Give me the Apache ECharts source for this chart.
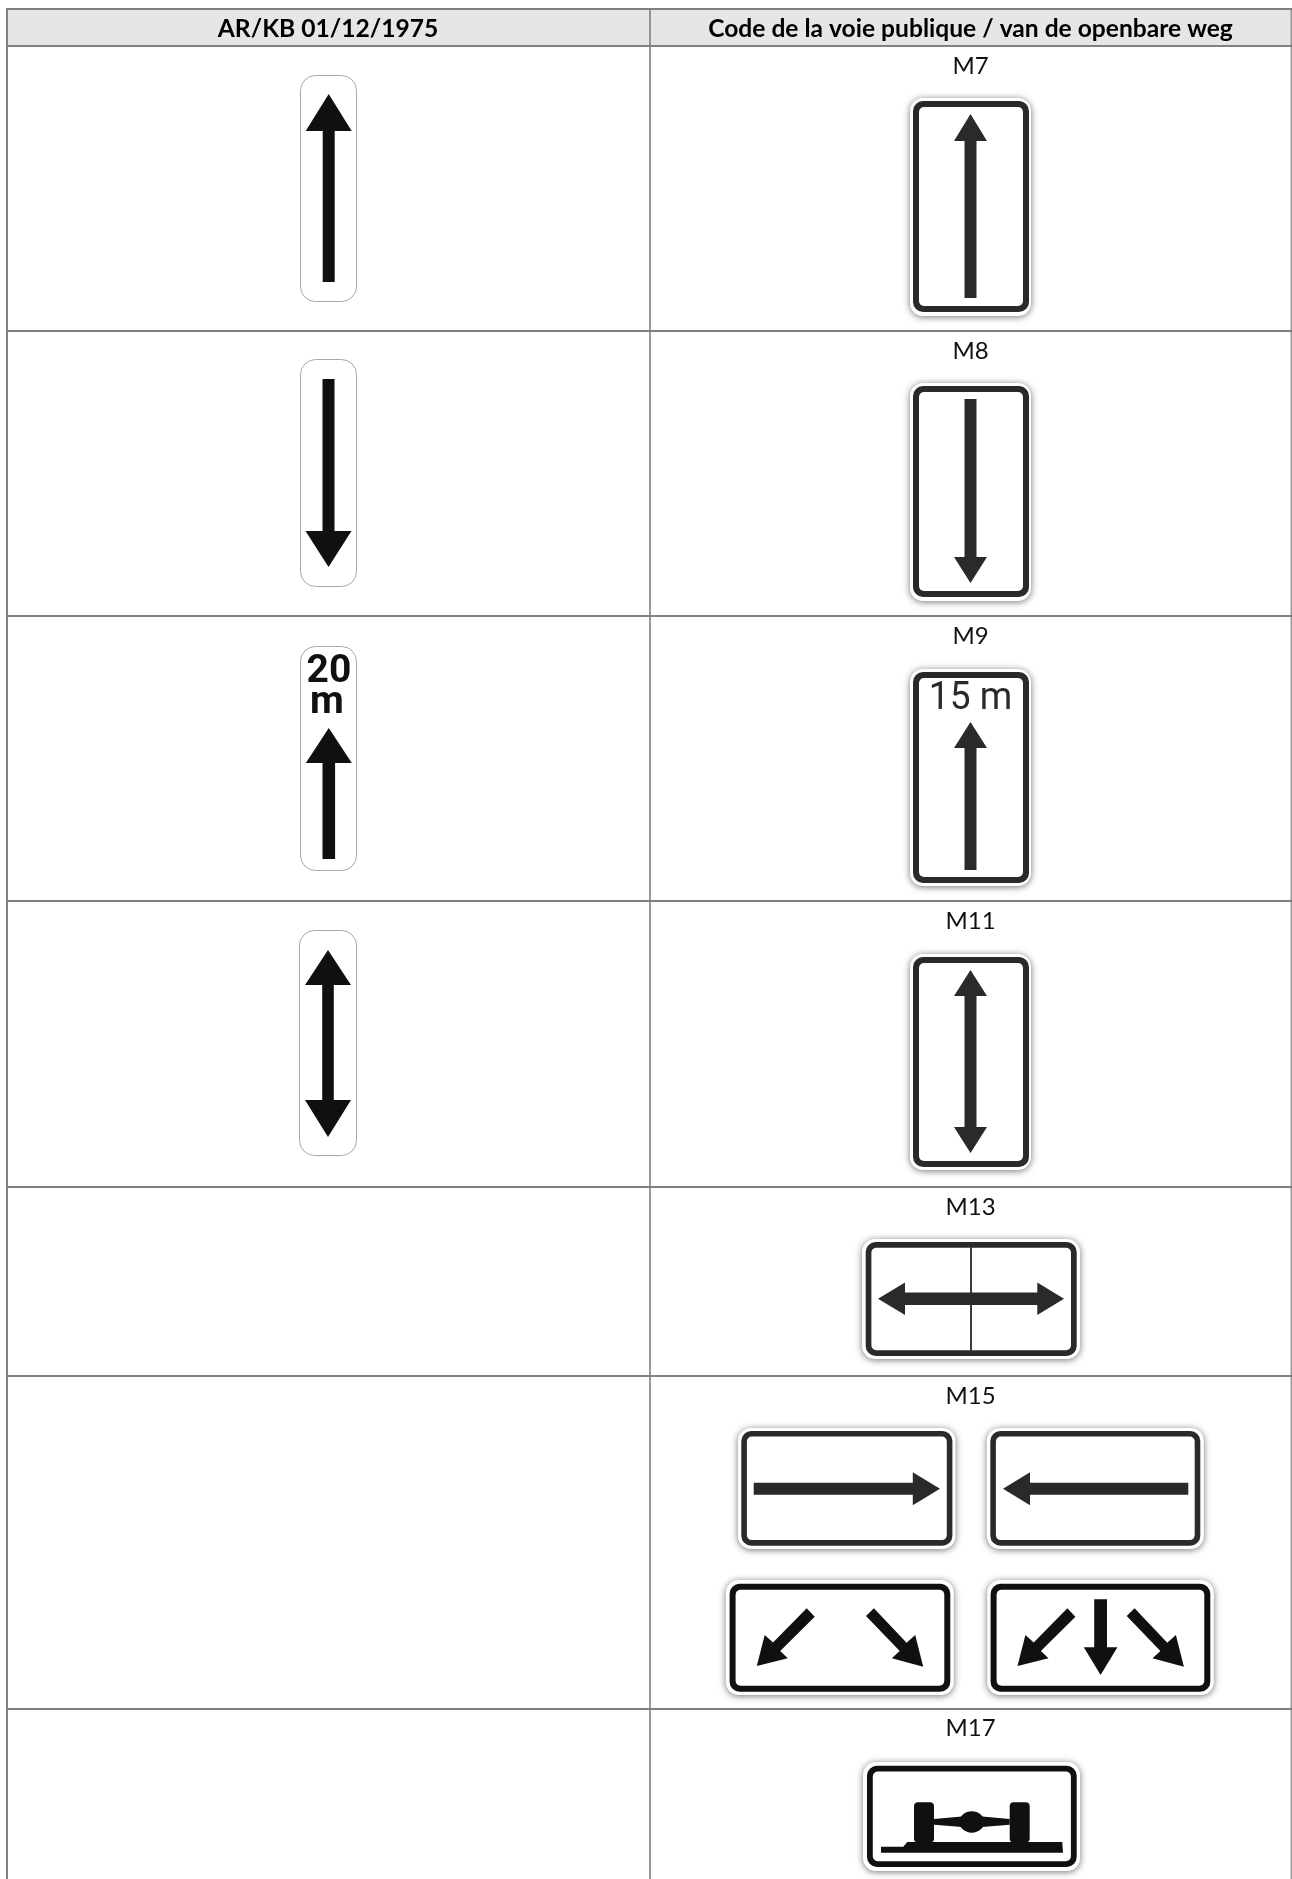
<!DOCTYPE html>
<html>
<head>
<meta charset="utf-8">
<style>html,body{margin:0;padding:0;background:#fff}#chart{width:1292px;height:1879px}</style>
<script src="https://cdn.jsdelivr.net/npm/echarts@6/dist/echarts.min.js"></script>
</head>
<body>
<div id="chart"></div>
<script>
// ---- content ----
const columnHeaders = ['AR/KB 01/12/1975', 'Code de la voie publique / van de openbare weg'];
const signCodes = ['M7', 'M8', 'M9', 'M11', 'M13', 'M15', 'M17'];
const oldSignWords = ['20', 'm'];
const newSignWords = ['15 m'];

// ---- drawing helpers (page space is mapped through the hidden axes) ----
const DARK = '#2b2a29', BLACK = '#111010', GREY = '#808080';
const FONT = 'Lato, "Open Sans", sans-serif';
const rect = (x0, y0, x1, y1, fill, r, extra) => ({ k: 'r', x0, y0, x1, y1, fill, r: r || 0, ...(extra || {}) });
const poly = (pts, fill) => ({ k: 'p', pts, fill });
const text = (s, x, y, font, fill, sx) => ({ k: 't', s, x, y, font, fill, sx: sx || 1 });
const ell = (cx, cy, rx, ry, fill) => ({ k: 'e', cx, cy, rx, ry, fill });

function vArrow(cx, yA, yB, hw, sw, fill, o) {
  // o: {tipTop:[tip,base], tipBottom:[base,tip]}; yA,yB = shaft ends
  const p = [];
  if (o.up) p.push([cx - sw, o.up[1]], [cx - hw, o.up[1]], [cx, o.up[0]], [cx + hw, o.up[1]], [cx + sw, o.up[1]]);
  else p.push([cx - sw, yA], [cx + sw, yA]);
  if (o.down) p.push([cx + sw, o.down[0]], [cx + hw, o.down[0]], [cx, o.down[1]], [cx - hw, o.down[0]], [cx - sw, o.down[0]]);
  else p.push([cx + sw, yB], [cx - sw, yB]);
  return poly(p, fill);
}
function hArrow(cy, xA, xB, hh, sh, fill, o) {
  const p = [];
  if (o.left) p.push([o.left[1], cy - sh], [o.left[1], cy - hh], [o.left[0], cy], [o.left[1], cy + hh], [o.left[1], cy + sh]);
  else p.push([xA, cy - sh], [xA, cy + sh]);
  if (o.right) p.push([o.right[0], cy + sh], [o.right[0], cy + hh], [o.right[1], cy], [o.right[0], cy - hh], [o.right[0], cy - sh]);
  else p.push([xB, cy + sh], [xB, cy - sh]);
  return poly(p, fill);
}
function oldPlate(x0, y0, x1, y1) {
  return [rect(x0 + .5, y0 + .5, x1 - .5, y1 - .5, '#fff', 15, { stroke: '#a8a8a8', lw: 1 })];
}
function newPlate(hx0, hy0, hx1, hy1, fx0, fy0, fx1, fy1, t, fill) {
  return [
    rect(hx0, hy0, hx1, hy1, '#fff', 13, { shadow: true }),
    rect(fx0, fy0, fx1, fy1, fill, 10),
    rect(fx0 + t, fy0 + t, fx1 - t, fy1 - t, '#fff', 5)
  ];
}
// diagonal arrows: given in zoom-derived page coordinates, dx shifts the pair
function diagL(dx) {
  return poly([[806.7 + dx, 1608.3], [814.7 + dx, 1616.7], [780.2 + dx, 1651], [787.8 + dx, 1658.3], [756.8 + dx, 1666], [764.7 + dx, 1635], [773 + dx, 1642.5]], BLACK);
}
function diagR(dx) {
  return poly([[873.9 + dx, 1608.3], [866 + dx, 1616], [899.7 + dx, 1651], [891.8 + dx, 1658.3], [923.2 + dx, 1666.7], [915.2 + dx, 1635], [906.6 + dx, 1642.7]], BLACK);
}

// ---- table furniture ----
const tableShapes = [
  rect(7, 9, 1291, 46, '#e6e6e6'),
  rect(6, 8, 1292, 10, GREY),
  rect(6, 45, 1292, 47, GREY),
  rect(6, 330, 1292, 332, GREY),
  rect(6, 615, 1292, 617, GREY),
  rect(6, 900, 1292, 902, GREY),
  rect(6, 1186, 1292, 1188, GREY),
  rect(6, 1375, 1292, 1377, GREY),
  rect(6, 1708, 1292, 1710, GREY),
  rect(6, 8, 8, 1879, GREY),
  rect(649.2, 8, 650.8, 1879, GREY),
  rect(1290.6, 8, 1291.8, 1879, GREY),
  text(columnHeaders[0], 328, 29, 'bold 24.6px ' + FONT, '#000'),
  text(columnHeaders[1], 970.5, 29, 'bold 24.6px ' + FONT, '#000'),
  text(signCodes[0], 970.5, 66, '24px ' + FONT, '#111'),
  text(signCodes[1], 970.5, 351.5, '24px ' + FONT, '#111'),
  text(signCodes[2], 970.5, 636, '24px ' + FONT, '#111'),
  text(signCodes[3], 970.5, 921.5, '24px ' + FONT, '#111'),
  text(signCodes[4], 970.5, 1207, '24px ' + FONT, '#111'),
  text(signCodes[5], 970.5, 1396, '24px ' + FONT, '#111'),
  text(signCodes[6], 970.5, 1728, '24px ' + FONT, '#111')
];

// ---- signs ----
const oldSigns = [
  [...oldPlate(300, 75, 357, 302), vArrow(328.7, 0, 282, 23, 6, BLACK, { up: [94, 131] })],
  [...oldPlate(300, 359, 357, 587), vArrow(328.5, 379, 0, 23, 6, BLACK, { down: [531, 567] })],
  [...oldPlate(300, 646, 357, 871),
    text(oldSignWords[0], 329, 672.5, 'bold 39px Roboto, sans-serif', BLACK),
    text(oldSignWords[1], 327, 703, 'bold 39px Roboto, sans-serif', BLACK),
    vArrow(328.8, 0, 859, 23, 6.3, BLACK, { up: [728, 763] })],
  [...oldPlate(299, 930, 357, 1156), vArrow(328, 0, 0, 23, 5.8, BLACK, { up: [950, 985], down: [1100, 1137] })]
];
const m9Word = text(newSignWords[0], 970.5, 699.5, '39px Roboto, sans-serif', DARK, 0.95);
const newSigns = [
  [...newPlate(910, 98, 1031, 316, 913, 101, 1029, 312, 6, DARK), vArrow(970.5, 0, 298, 16.5, 6, DARK, { up: [114, 141] })],
  [...newPlate(910, 383, 1031, 601, 913, 386, 1029, 597, 6, DARK), vArrow(970.5, 399, 0, 16.5, 6, DARK, { down: [557, 583] })],
  [...newPlate(910, 669, 1031, 886, 913, 672, 1029, 883, 6, DARK), m9Word, vArrow(970.5, 0, 870, 16.5, 6, DARK, { up: [722, 748] })],
  [...newPlate(910, 954, 1031, 1170, 913, 957, 1029, 1167, 6, DARK), vArrow(970.5, 0, 0, 16.5, 6, DARK, { up: [970, 996], down: [1127, 1153] })],
  [...newPlate(862, 1239, 1080, 1359, 865.7, 1242, 1076.7, 1356, 5.7, DARK),
    rect(970, 1247, 972, 1351, '#3a3a3a'),
    hArrow(1298.8, 0, 0, 16.2, 6.2, DARK, { left: [878, 905], right: [1037.3, 1064] })],
  [...newPlate(738, 1428, 955.5, 1549, 741.3, 1431, 952.4, 1545.7, 5.6, DARK), hArrow(1488.7, 753.7, 0, 16.5, 6, DARK, { right: [912.8, 940] })],
  [...newPlate(986.8, 1428, 1203.8, 1549, 990.3, 1431, 1200.3, 1545.7, 5.6, DARK), hArrow(1488.7, 0, 1188.3, 16.5, 6, DARK, { left: [1003, 1030] })],
  [...newPlate(725.8, 1580, 953.8, 1695, 729.6, 1583.7, 950.3, 1691.7, 6, BLACK), diagL(0), diagR(0)],
  [...newPlate(987.2, 1580, 1213.8, 1695, 990.6, 1583.7, 1210.3, 1691.7, 6, BLACK), diagL(260.7), diagR(260.7),
    vArrow(1100.6, 1599.3, 0, 16.8, 6.4, BLACK, { down: [1647.3, 1675] })],
  [...newPlate(863, 1762, 1080, 1871, 867, 1765.7, 1076.7, 1867, 5.8, BLACK),
    poly([[881, 1846.7], [903.3, 1846.7], [907.3, 1842], [1062.3, 1842], [1063, 1852.7], [881, 1852.7]], BLACK),
    rect(914, 1802.3, 934, 1842.5, BLACK, 4),
    rect(1009.7, 1802.3, 1029.7, 1842.5, BLACK, 4),
    poly([[934, 1819], [962, 1816.5], [982, 1816.5], [1009.7, 1819], [1009.7, 1824.7], [982, 1827], [962, 1827], [934, 1824.7]], BLACK),
    ell(971.8, 1822, 12.5, 10.7, BLACK)]
];

const layers = [tableShapes, ...oldSigns, ...newSigns];

function build(shape, api) {
  if (shape.k === 'r') {
    const a = api.coord([shape.x0, shape.y0]), b = api.coord([shape.x1, shape.y1]);
    const style = { fill: shape.fill };
    if (shape.stroke) { style.stroke = shape.stroke; style.lineWidth = shape.lw; }
    if (shape.shadow) { style.shadowBlur = 7; style.shadowColor = 'rgba(0,0,0,0.55)'; style.shadowOffsetY = 1; }
    return { type: 'rect', shape: { x: a[0], y: a[1], width: b[0] - a[0], height: b[1] - a[1], r: shape.r }, style };
  }
  if (shape.k === 'p') {
    return { type: 'polygon', shape: { points: shape.pts.map(p => api.coord(p)) }, style: { fill: shape.fill } };
  }
  if (shape.k === 'e') {
    const c = api.coord([shape.cx, shape.cy]);
    return { type: 'ellipse', shape: { cx: c[0], cy: c[1], rx: shape.rx, ry: shape.ry }, style: { fill: shape.fill } };
  }
  const p = api.coord([shape.x, shape.y]);
  return {
    type: 'text', x: p[0], y: p[1], scaleX: shape.sx,
    style: { text: shape.s, x: 0, y: 0, font: shape.font, fill: shape.fill, align: 'center', verticalAlign: 'middle' }
  };
}

const chart = echarts.init(document.getElementById('chart'), null, { renderer: 'canvas' });
chart.setOption({
  animation: false,
  backgroundColor: '#ffffff',
  grid: { left: 0, right: 0, top: 0, bottom: 0 },
  xAxis: { type: 'value', min: 0, max: 1292, show: false },
  yAxis: { type: 'value', min: 0, max: 1879, inverse: true, show: false },
  tooltip: { show: false },
  series: [{
    type: 'custom',
    coordinateSystem: 'cartesian2d',
    clip: false,
    silent: true,
    encode: { x: 0, y: 1 },
    data: layers.map((_, i) => [0, i]),
    renderItem(params, api) {
      return { type: 'group', children: layers[params.dataIndex].map(s => build(s, api)) };
    }
  }]
});
</script>
</body>
</html>
